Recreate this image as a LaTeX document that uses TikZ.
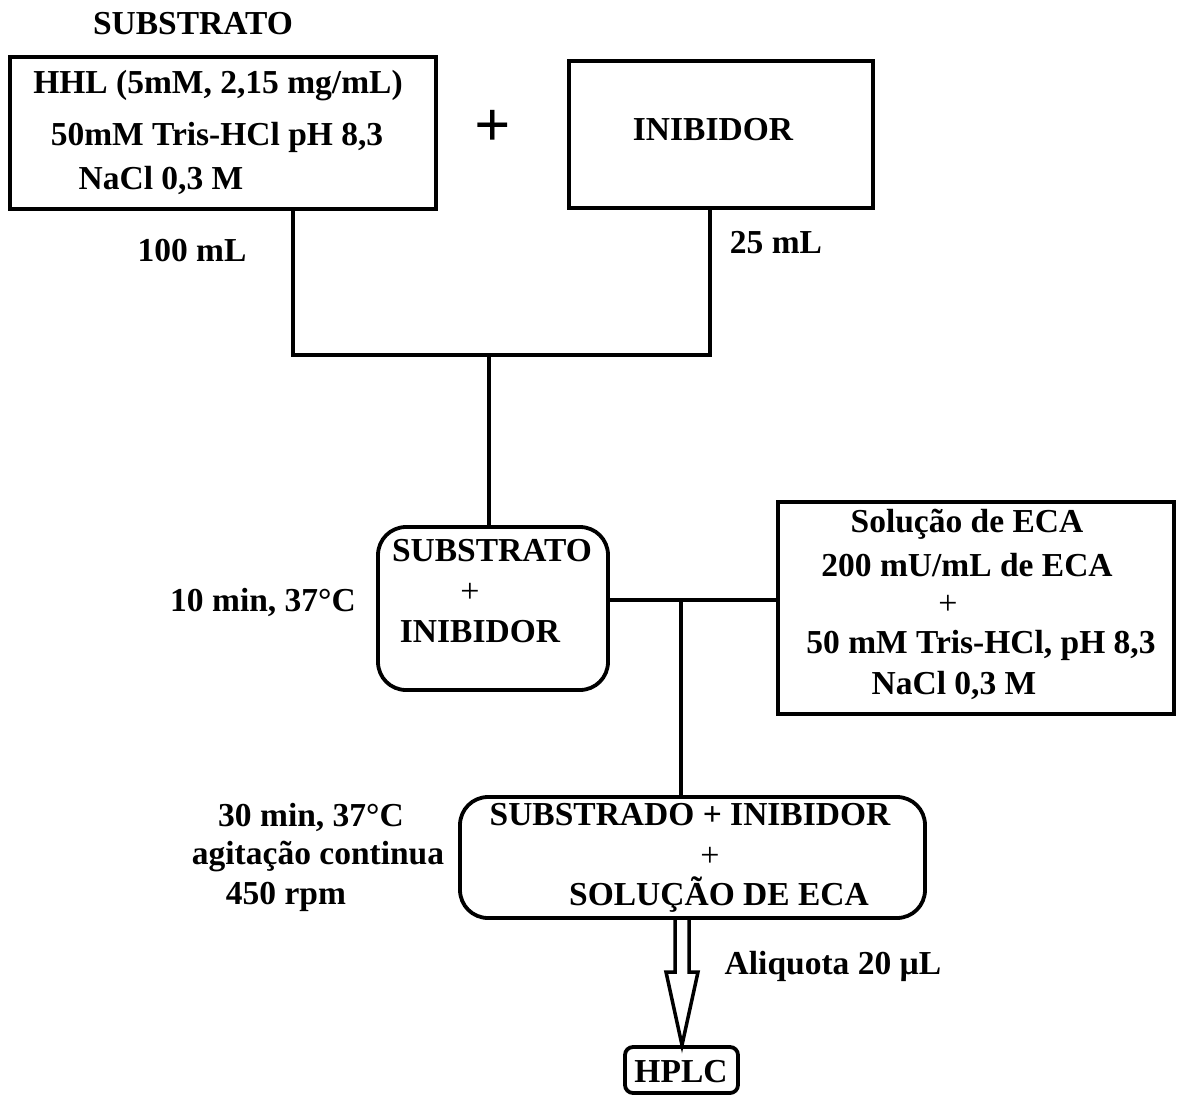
\documentclass[tikz,border=0pt]{standalone}
\usepackage{fontspec}
\setmainfont{Liberation Serif}
\usetikzlibrary{positioning}
\tikzset{
  lbl/.style={font=\fontsize{33.5}{38}\selectfont\bfseries, inner sep=0pt},
  pls/.style={font=\fontsize{34}{38}\selectfont, inner sep=0pt},
  box/.style={draw, line width=3.8pt, inner sep=0pt},
  rbox/.style={box, rounded corners=28pt},
  wire/.style={line width=3.8pt},
}
\begin{document}
\begin{tikzpicture}[x=1pt, y=-1pt]
\useasboundingbox (0,0) rectangle (1178,1095);

% top boxes
\node[lbl] (substtitle) at (193,24) {SUBSTRATO};
\node[box, minimum width=426pt, minimum height=152pt] (subst) at (223,133) {};
\node[lbl] (hhl) at (218,86) {HHL (5mM, 2,15 mg/mL)};
\node[lbl] (tris1) at (217,137) {50mM Tris-HCl pH 8,3};
\node[lbl] (nacl1) at (161,180) {NaCl 0,3 M};
\node[font=\fontsize{64}{64}\selectfont\bfseries, inner sep=0pt] (plustop) at (493,128) {+};
\node[box, minimum width=304pt, minimum height=147pt] (inib) at (721,134.5) {};
\node[lbl] (inibtxt) at (713,130) {INIBIDOR};
\node[lbl] (vol1) at (192,251) {100 mL};
\node[lbl] (vol2) at (776,243) {25 mL};

% first mix
\node[rbox, minimum width=230pt, minimum height=163pt] (mix1) at (493,608.5) {};
\node[lbl] (mix1a) at (492,551) {SUBSTRATO};
\node[pls] (mix1b) at (470,593) {+};
\node[lbl] (mix1c) at (480,632) {INIBIDOR};
\node[lbl] (time1) at (263,602) {10 min, 37°C};

% enzyme solution
\node[box, minimum width=396pt, minimum height=212pt] (eca) at (976,608) {};
\node[lbl] (eca1) at (967,524) {Solução de ECA};
\node[lbl] (eca2) at (967,565) {200 mU/mL de ECA};
\node[pls] (eca3) at (948,605) {+};
\node[lbl] (eca4) at (981,645) {50 mM Tris-HCl, pH 8,3};
\node[lbl] (eca5) at (954,685) {NaCl 0,3 M};

% second mix
\node[rbox, minimum width=465pt, minimum height=121pt] (mix2) at (692.5,857.5) {};
\node[lbl] (mix2a) at (690,815) {SUBSTRADO + INIBIDOR};
\node[pls] (mix2b) at (710,857) {+};
\node[lbl] (mix2c) at (719,895) {SOLUÇÃO DE ECA};
\node[lbl] (time2a) at (311,817) {30 min, 37°C};
\node[lbl] (time2b) at (318,857) {agitação continua};
\node[lbl] (time2c) at (286,897) {450 rpm};

% HPLC
\node[box, rounded corners=8pt, minimum width=113pt, minimum height=46pt] (hplc) at (681.5,1070) {};
\node[lbl] (hplctxt) at (681,1072) {HPLC};
\node[lbl] (aliq) at (833,966) {Aliquota 20 µL};

% connectors
\coordinate (joinL) at (293,355);
\coordinate (joinR) at (710,355);
\coordinate (j1) at (489,355);
\draw[wire] (joinL |- subst.south) -- (joinL) -- (joinR) -- (joinR |- inib.south);
\draw[wire] (j1) -- (j1 |- mix1.north);
\coordinate (j2) at (681,600);
\draw[wire] (j2 -| mix1.east) -- (j2 -| eca.west);
\draw[wire] (j2) -- (j2 |- mix2.north);

% hollow arrow
\coordinate (ah) at (682,972);
\coordinate (aL) at (675,972);
\coordinate (aR) at (689,972);
\draw[line width=3.5pt, line join=miter] (aL |- mix2.south) -- (aL) -- ++(-9,0) -- (ah |- hplc.north) -- (698,972) -- (aR) -- (aR |- mix2.south);
\end{tikzpicture}
\end{document}
